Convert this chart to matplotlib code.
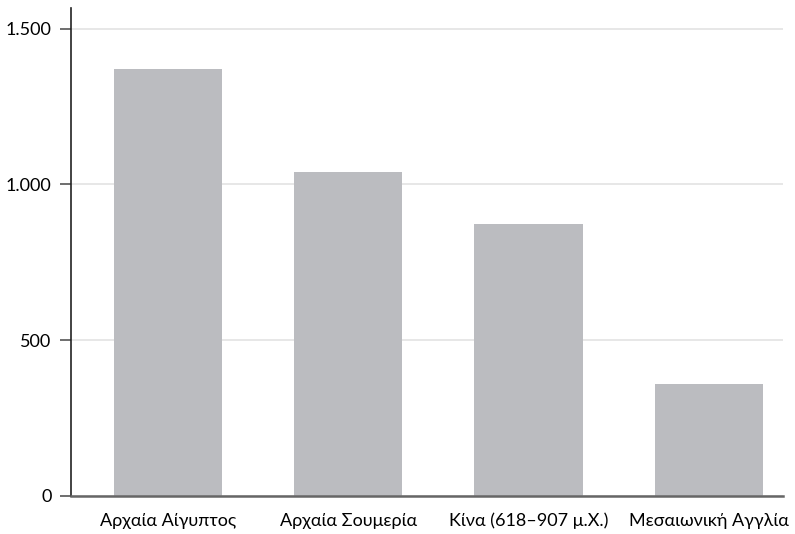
import matplotlib.pyplot as plt
from matplotlib.ticker import FuncFormatter

categories = ["Αρχαία Αίγυπτος", "Αρχαία Σουμερία", "Κίνα (618–907 μ.Χ.)", "Μεσαιωνική Αγγλία"]
values = [1370, 1040, 872, 360]
y_ticks = [0, 500, 1000, 1500]

plt.rcParams["font.family"] = ["Lato", "DejaVu Sans"]

fig = plt.figure(figsize=(7.95, 5.34), dpi=100)
ax = fig.add_axes([0.0893, 0.0712, 0.8957, 0.9138])

x = list(range(len(categories)))
ax.bar(x, values, width=0.6, color="#bbbcc0", zorder=2)

ax.set_xlim(-0.536, 3.41)
ax.set_ylim(0, 1566)
ax.set_yticks(y_ticks)
ax.yaxis.set_major_formatter(FuncFormatter(lambda v, p: f"{int(v):,}".replace(",", ".")))
ax.set_xticks(x)
ax.set_xticklabels(categories)

ax.grid(axis="y", color="#e3e3e3", linewidth=1.2, zorder=0)
ax.set_axisbelow(True)

for side in ["top", "right"]:
    ax.spines[side].set_visible(False)
ax.spines["left"].set_color("#222222")
ax.spines["left"].set_linewidth(1.2)
ax.spines["bottom"].set_color("#666666")
ax.spines["bottom"].set_linewidth(1.8)

ax.tick_params(axis="y", length=8, width=1.2, color="#555555", labelsize=13, pad=6)
ax.tick_params(axis="x", length=0, labelsize=13, pad=12)

fig.savefig("out.png", dpi=100)
